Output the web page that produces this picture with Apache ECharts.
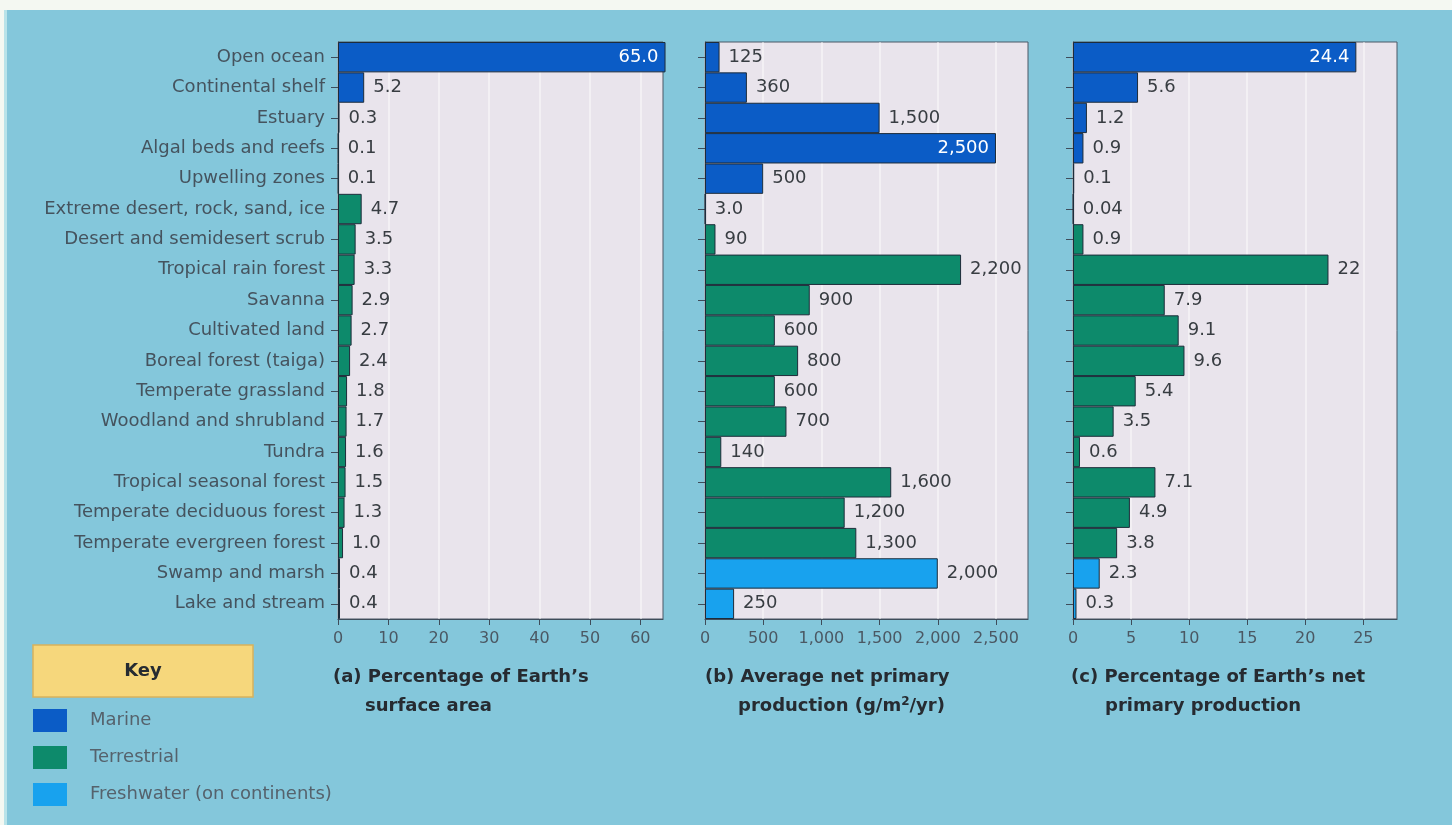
<!DOCTYPE html>
<html>
<head>
<meta charset="utf-8">
<title>Net primary production by ecosystem</title>
<script src="https://cdn.jsdelivr.net/npm/echarts@6/dist/echarts.min.js"></script>
<style>
  html, body { margin: 0; padding: 0; background: #84c7db; }
  #chart { width: 1452px; height: 825px; }
</style>
</head>
<body>
<div id="chart"></div>
<script>
// Ecosystem categories, top to bottom
const categories = [
  'Open ocean', 'Continental shelf', 'Estuary', 'Algal beds and reefs', 'Upwelling zones',
  'Extreme desert, rock, sand, ice', 'Desert and semidesert scrub', 'Tropical rain forest',
  'Savanna', 'Cultivated land', 'Boreal forest (taiga)', 'Temperate grassland',
  'Woodland and shrubland', 'Tundra', 'Tropical seasonal forest', 'Temperate deciduous forest',
  'Temperate evergreen forest', 'Swamp and marsh', 'Lake and stream'
];
const habitat = [
  'Marine', 'Marine', 'Marine', 'Marine', 'Marine',
  'Terrestrial', 'Terrestrial', 'Terrestrial', 'Terrestrial', 'Terrestrial', 'Terrestrial',
  'Terrestrial', 'Terrestrial', 'Terrestrial', 'Terrestrial', 'Terrestrial', 'Terrestrial',
  'Freshwater (on continents)', 'Freshwater (on continents)'
];
const groups = ['Marine', 'Terrestrial', 'Freshwater (on continents)'];

// (a) % of Earth's surface area
const surfaceArea = [65.0, 5.2, 0.3, 0.1, 0.1, 4.7, 3.5, 3.3, 2.9, 2.7, 2.4, 1.8, 1.7, 1.6, 1.5, 1.3, 1.0, 0.4, 0.4];
// (b) average net primary production, g/m2/yr
const avgNpp = [125, 360, 1500, 2500, 500, 3.0, 90, 2200, 900, 600, 800, 600, 700, 140, 1600, 1200, 1300, 2000, 250];
// (c) % of Earth's net primary production
const nppShare = [24.4, 5.6, 1.2, 0.9, 0.1, 0.04, 0.9, 22, 7.9, 9.1, 9.6, 5.4, 3.5, 0.6, 7.1, 4.9, 3.8, 2.3, 0.3];

// Axis tick values
const ticksA = [0, 10, 20, 30, 40, 50, 60];
const ticksB = [0, 500, 1000, 1500, 2000, 2500];
const ticksC = [0, 5, 10, 15, 20, 25];

const groupColors = {
  'Marine': '#0b5cc6',
  'Terrestrial': '#0d8a6b',
  'Freshwater (on continents)': '#18a2ee'
};

const FONT = '"DejaVu Sans", "Noto Sans", sans-serif';
const fmtA = v => v.toFixed(1);
const fmtB = v => (v < 10 ? v.toFixed(1) : v.toLocaleString('en-US'));
const fmtC = v => String(v);

const panels = [
  { values: surfaceArea, ticks: ticksA, max: 64.5, fmt: fmtA, left: 338, right: 1452 - 663 },
  { values: avgNpp, ticks: ticksB, max: 2775, fmt: fmtB, left: 705, right: 1452 - 1028 },
  { values: nppShare, ticks: ticksC, max: 27.9, fmt: fmtC, left: 1073, right: 1452 - 1397 }
];

const grids = [], xAxes = [], yAxes = [], series = [];
panels.forEach((p, k) => {
  grids.push({
    left: p.left, right: p.right, top: 42, bottom: 825 - 619,
    show: true, backgroundColor: '#e9e4ec', borderColor: '#4a5866', borderWidth: 1
  });
  xAxes.push({
    type: 'value', gridIndex: k, min: 0, max: p.max,
    axisLine: { show: true, lineStyle: { color: '#3e4c5a', width: 1.2 } },
    axisTick: { show: true, customValues: p.ticks, length: 6, lineStyle: { color: '#3e4c5a' } },
    axisLabel: {
      customValues: p.ticks, margin: 12, fontFamily: FONT, fontSize: 16, color: '#4b5863',
      formatter: v => v.toLocaleString('en-US')
    },
    splitLine: { show: true, lineStyle: { color: 'rgba(255,255,255,0.6)', width: 1.5 } }
  });
  yAxes.push({
    type: 'category', gridIndex: k, data: categories, inverse: true,
    axisLine: { show: true, lineStyle: { color: '#3e4c5a', width: 1.2 } },
    axisTick: { show: true, alignWithLabel: true, length: 7, lineStyle: { color: '#3e4c5a' } },
    axisLabel: { show: k === 0, margin: 13, fontFamily: FONT, fontSize: 18, color: '#45535e' }
  });
  groups.forEach(g => {
    series.push({
      name: g, type: 'bar', xAxisIndex: k, yAxisIndex: k,
      barGap: '-100%', barCategoryGap: '0%', clip: false,
      itemStyle: { color: groupColors[g], borderColor: '#1d2c3a', borderWidth: 1 },
      label: {
        show: true, position: 'right', distance: 9,
        fontFamily: FONT, fontSize: 18, color: '#383d42',
        formatter: prm => p.fmt(prm.value)
      },
      data: p.values.map((v, i) => {
        if (habitat[i] !== g) return '-';
        if (v > 0.85 * p.max) {
          return { value: v, label: { position: 'insideRight', distance: 7, color: '#ffffff' } };
        }
        return v;
      })
    });
  });
});

const titleFont = 'bold 18px ' + FONT;
const titleColor = '#262b31';
const titleText = (x, y, text) => ({
  type: 'text', x, y, silent: true,
  style: { text, font: titleFont, fill: titleColor, textVerticalAlign: 'middle' }
});

const option = {
  backgroundColor: '#84c7db',
  animation: false,
  grid: grids,
  xAxis: xAxes,
  yAxis: yAxes,
  series,
  legend: {
    data: groups, orient: 'vertical', left: 33, top: 709, padding: 0,
    icon: 'rect', itemWidth: 34, itemHeight: 23, itemGap: 14,
    itemStyle: { borderWidth: 0 },
    textStyle: { fontFamily: FONT, fontSize: 18, color: '#55626c', padding: [0, 0, 0, 18] }
  },
  graphic: [
    // light frame strips along the top and left edges
    { type: 'rect', shape: { x: 0, y: 0, width: 1452, height: 10 }, style: { fill: '#f4f8f2' }, silent: true },
    { type: 'rect', shape: { x: 0, y: 0, width: 4, height: 825 }, style: { fill: '#f4f8f2' }, silent: true },
    { type: 'rect', shape: { x: 4, y: 10, width: 3, height: 815 }, style: { fill: '#b9e3e9' }, silent: true },
    // key box
    {
      type: 'rect', shape: { x: 33, y: 645, width: 220, height: 52 },
      style: { fill: '#f6d77c', stroke: '#d8b25c', lineWidth: 1.5 }, silent: true
    },
    {
      type: 'text', x: 143, y: 671, silent: true,
      style: { text: 'Key', font: titleFont, fill: titleColor, textAlign: 'center', textVerticalAlign: 'middle' }
    },
    // panel captions
    titleText(333, 677, "(a) Percentage of Earth\u2019s"),
    titleText(365, 706, 'surface area'),
    titleText(705, 677, '(b) Average net primary'),
    {
      type: 'text', x: 738, y: 706, silent: true,
      style: {
        text: '{t|production (g/m}{s|2}{t|/yr)}',
        fill: titleColor,
        textVerticalAlign: 'middle',
        rich: {
          t: { fontFamily: FONT, fontSize: 18, fontWeight: 'bold', fill: titleColor },
          s: { fontFamily: FONT, fontSize: 12, fontWeight: 'bold', fill: titleColor, padding: [0, 0, 9, 0] }
        }
      }
    },
    titleText(1071, 677, "(c) Percentage of Earth\u2019s net"),
    titleText(1105, 706, 'primary production')
  ]
};

const chart = echarts.init(document.getElementById('chart'), null, { renderer: 'canvas' });
chart.setOption(option);
</script>
</body>
</html>
